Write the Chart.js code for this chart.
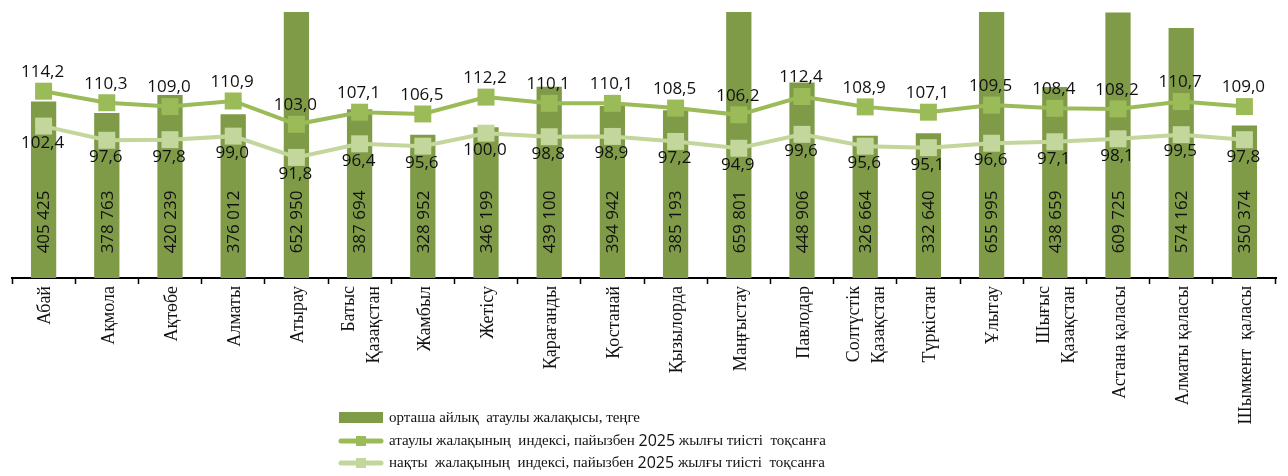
<!DOCTYPE html>
<html>
<head>
<meta charset="utf-8">
<script src="https://cdn.jsdelivr.net/npm/chart.js@4.4.1/dist/chart.umd.min.js"></script>
<style>
  html, body { margin: 0; padding: 0; background: #fff; }
</style>
</head>
<body>
<canvas id="wageChart" width="1288" height="476"></canvas>
<script>
const regions = [
    'Абай', 'Ақмола', 'Ақтөбе', 'Алматы', 'Атырау', ['Батыс', 'Қазақстан'],
    'Жамбыл', 'Жетісу', 'Қарағанды', 'Қостанай', 'Қызылорда', 'Маңғыстау',
    'Павлодар', ['Солтүстік', 'Қазақстан'], 'Түркістан', 'Ұлытау',
    ['Шығыс', 'Қазақстан'], 'Астана қаласы', 'Алматы қаласы', 'Шымкент  қаласы'
];
const avgWage = [
    405425, 378763, 420239, 376012, 652950, 387694, 328952, 346199, 439100, 394942,
    385193, 659801, 448906, 326664, 332640, 655995, 438659, 609725, 574162, 350374
];
const nominalIndex = [
    114.2, 110.3, 109.0, 110.9, 103.0, 107.1, 106.5, 112.2, 110.1, 110.1,
    108.5, 106.2, 112.4, 108.9, 107.1, 109.5, 108.4, 108.2, 110.7, 109.0
];
const realIndex = [
    102.4, 97.6, 97.8, 99.0, 91.8, 96.4, 95.6, 100.0, 98.8, 98.9,
    97.2, 94.9, 99.6, 95.6, 95.1, 96.6, 97.1, 98.1, 99.5, 97.8
];
const seriesNames = [
    'орташа айлық  атаулы жалақысы, теңге',
    'атаулы жалақының  индексі, пайызбен 2025 жылғы тиісті  тоқсанға',
    'нақты  жалақының  индексі, пайызбен 2025 жылғы тиісті  тоқсанға'
];

const BAR_COLOR = '#7f9b48';
const NOM_COLOR = '#9bbb59';
const REAL_COLOR = '#c3d69b';
const SERIF = '"Liberation Serif", "Times New Roman", serif';
const SANS = '"Open Sans", "Noto Sans", sans-serif';

const fmtWage = v => String(v).replace(/\B(?=(\d{3})+(?!\d))/g, ' ');
const fmtIdx = v => v.toFixed(1).replace('.', ',');

// value labels on bars and line points
const valueLabels = {
    id: 'valueLabels',
    afterDatasetsDraw(chart) {
        const ctx = chart.ctx;
        ctx.save();
        ctx.fillStyle = '#111';
        ctx.font = '17px ' + SANS;
        ctx.textAlign = 'center';
        ctx.textBaseline = 'middle';

        chart.getDatasetMeta(0).data.forEach((bar, i) => {
            ctx.save();
            ctx.translate(bar.x, 222);
            ctx.rotate(-Math.PI / 2);
            ctx.fillText(fmtWage(avgWage[i]), 0, 1);
            ctx.restore();
        });
        chart.getDatasetMeta(1).data.forEach((pt, i) => {
            ctx.fillText(fmtIdx(nominalIndex[i]), pt.x - 1, pt.y - 19);
        });
        chart.getDatasetMeta(2).data.forEach((pt, i) => {
            ctx.fillText(fmtIdx(realIndex[i]), pt.x - 1, pt.y + 17);
        });
        ctx.restore();
    }
};

// category names, rotated, with wrapped lines centred on the category
const regionLabels = {
    id: 'regionLabels',
    afterDraw(chart) {
        const ctx = chart.ctx;
        const xs = chart.scales.x;
        const lh = 25;
        ctx.save();
        ctx.fillStyle = '#111';
        ctx.font = '18px ' + SERIF;
        ctx.textAlign = 'right';
        ctx.textBaseline = 'middle';
        regions.forEach((name, i) => {
            const lines = Array.isArray(name) ? name : [name];
            const cx = xs.getPixelForValue(i) + 2;
            lines.forEach((line, j) => {
                const x = cx - (lines.length - 1) * lh / 2 + j * lh;
                ctx.save();
                ctx.translate(x, chart.chartArea.bottom + 8);
                ctx.rotate(-Math.PI / 2);
                ctx.fillText(line, 0, 0);
                ctx.restore();
            });
        });
        ctx.restore();
    }
};

// legend stacked under the chart, "2025" set in the sans font like the original
const stackedLegend = {
    id: 'stackedLegend',
    afterDraw(chart) {
        const ctx = chart.ctx;
        const rows = [
            { kind: 'bar', color: BAR_COLOR, y: 418, text: seriesNames[0] },
            { kind: 'line', color: NOM_COLOR, y: 441, text: seriesNames[1] },
            { kind: 'line', color: REAL_COLOR, y: 463, text: seriesNames[2] }
        ];
        ctx.save();
        rows.forEach(r => {
            if (r.kind === 'bar') {
                ctx.fillStyle = r.color;
                ctx.fillRect(339, r.y - 6, 44, 11);
            } else {
                ctx.strokeStyle = r.color;
                ctx.lineWidth = 5;
                ctx.lineCap = 'round';
                ctx.beginPath();
                ctx.moveTo(341, r.y);
                ctx.lineTo(381, r.y);
                ctx.stroke();
                ctx.fillStyle = r.color;
                ctx.fillRect(356, r.y - 5, 10, 10);
            }
            ctx.fillStyle = '#111';
            ctx.textBaseline = 'middle';
            ctx.textAlign = 'left';
            let x = 389;
            r.text.split(/(2025)/).forEach(part => {
                ctx.font = part === '2025' ? '16px ' + SANS : '15px ' + SERIF;
                ctx.fillText(part, x, r.y);
                x += ctx.measureText(part).width;
            });
        });
        ctx.restore();
    }
};

new Chart(document.getElementById('wageChart'), {
    type: 'bar',
    data: {
        labels: regions,
        datasets: [
            {
                type: 'bar',
                label: seriesNames[0],
                data: avgWage,
                backgroundColor: BAR_COLOR,
                barPercentage: 0.4,
                categoryPercentage: 1.0,
                yAxisID: 'yWage',
                order: 3
            },
            {
                type: 'line',
                label: seriesNames[1],
                data: nominalIndex,
                borderColor: NOM_COLOR,
                backgroundColor: NOM_COLOR,
                borderWidth: 4,
                pointStyle: 'rect',
                pointRadius: 12,
                pointBorderWidth: 0,
                tension: 0,
                yAxisID: 'yIdx',
                order: 2
            },
            {
                type: 'line',
                label: seriesNames[2],
                data: realIndex,
                borderColor: REAL_COLOR,
                backgroundColor: REAL_COLOR,
                borderWidth: 4,
                pointStyle: 'rect',
                pointRadius: 12,
                pointBorderWidth: 0,
                tension: 0,
                yAxisID: 'yIdx',
                order: 1
            }
        ]
    },
    options: {
        responsive: false,
        animation: false,
        layout: { padding: { left: 10, right: 10, top: 11, bottom: 0 } },
        plugins: {
            legend: { display: false },
            tooltip: { enabled: false }
        },
        scales: {
            x: {
                afterFit: scale => { scale.height = 198; },
                grid: {
                    offset: true,
                    drawOnChartArea: false,
                    drawTicks: true,
                    tickLength: 6,
                    tickWidth: 1.5,
                    tickColor: '#000'
                },
                border: { display: true, color: '#000', width: 2 },
                ticks: { display: false, autoSkip: false }
            },
            yWage: {
                display: false,
                min: 0,
                max: 611000
            },
            yIdx: {
                display: false,
                min: 51,
                max: 141
            }
        }
    },
    plugins: [valueLabels, regionLabels, stackedLegend]
});
</script>
</body>
</html>
